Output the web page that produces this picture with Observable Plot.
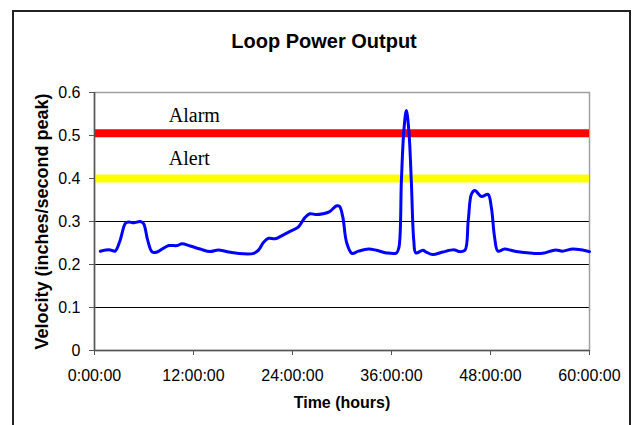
<!DOCTYPE html>
<html>
<head>
<meta charset="utf-8">
<script src="https://cdn.jsdelivr.net/npm/d3@7"></script>
<script src="https://cdn.jsdelivr.net/npm/@observablehq/plot@0.6"></script>
<style>
  html, body { margin: 0; padding: 0; background: #fff; overflow: hidden; }
  #wrap { position: relative; width: 636px; height: 425px; overflow: hidden; }
  #border { position: absolute; left: 12px; top: 10px; width: 619px; height: 480px; border: 2px solid #222; box-sizing: border-box; pointer-events: none; }
  #chart { position: absolute; left: 0; top: 0; }
</style>
</head>
<body>
<div id="wrap"><div id="chart"></div><div id="border"></div></div>
<script>
const title = "Loop Power Output";
const xLabel = "Time (hours)";
const yLabel = "Velocity (inches/second peak)";

const hours = [0.7, 1.9, 2.5, 3.1, 3.75, 4.15, 4.75, 5.55, 5.95, 6.45, 7.0, 7.6, 8.2, 9.0, 10.0, 10.6, 11.6, 12.8, 14.0, 15.0, 16.0, 17.3, 19.3, 19.9, 20.5, 21.1, 21.9, 22.9, 23.7, 24.7, 25.5, 26.1, 26.9, 27.7, 28.5, 29.3, 29.7, 30.1, 30.55, 31.2, 32.0, 33.2, 34.2, 35.4, 36.6, 36.9, 37.2, 37.5, 37.8, 38.1, 38.4, 38.7, 38.95, 39.8, 40.2, 41.0, 42.2, 43.65, 44.25, 44.9, 45.3, 45.7, 46.1, 46.9, 47.7, 48.1, 48.5, 48.9, 49.7, 51.1, 53.1, 54.3, 55.9, 56.7, 58.0, 59.8, 60.0];
const velocity = [0.231, 0.234, 0.231, 0.256, 0.296, 0.299, 0.297, 0.300, 0.295, 0.256, 0.229, 0.229, 0.236, 0.244, 0.244, 0.248, 0.243, 0.236, 0.230, 0.234, 0.230, 0.226, 0.226, 0.234, 0.252, 0.261, 0.260, 0.269, 0.277, 0.287, 0.309, 0.318, 0.316, 0.318, 0.323, 0.336, 0.335, 0.310, 0.252, 0.226, 0.231, 0.236, 0.233, 0.227, 0.227, 0.240, 0.395, 0.512, 0.558, 0.512, 0.395, 0.256, 0.227, 0.233, 0.229, 0.223, 0.229, 0.234, 0.230, 0.233, 0.302, 0.364, 0.372, 0.358, 0.363, 0.333, 0.263, 0.231, 0.236, 0.230, 0.226, 0.226, 0.234, 0.231, 0.236, 0.231, 0.230];

const xTicks = [0, 12, 24, 36, 48, 60];
const xTickLabels = ["0:00:00", "12:00:00", "24:00:00", "36:00:00", "48:00:00", "60:00:00"];
const yTicks = [0, 0.1, 0.2, 0.3, 0.4, 0.5, 0.6];
const yTickLabels = ["0", "0.1", "0.2", "0.3", "0.4", "0.5", "0.6"];

const thresholdNames = ["Alarm", "Alert"];
const thresholdLevels = [0.505, 0.4];
const thresholdColors = ["#ff0000", "#ffff00"];

const series = hours.map((h, i) => ({h, v: velocity[i]}));
const thresholds = thresholdNames.map((n, i) => ({name: n, level: thresholdLevels[i], color: thresholdColors[i]}));

const sans = "'Liberation Sans', Arial, sans-serif";

const chart = Plot.plot({
  width: 636,
  height: 425,
  marginLeft: 94,
  marginRight: 47,
  marginTop: 92,
  marginBottom: 75,
  style: {fontFamily: sans, fontSize: "16px", background: "transparent", color: "#000"},
  x: {domain: [0, 60]},
  y: {domain: [0, 0.6]},
  marks: [
    Plot.ruleY(yTicks.filter(d => d > 0 && d < 0.6), {stroke: "#000", strokeWidth: 1}),
    Plot.frame({stroke: "#a0a0a0", strokeWidth: 1.5}),
    Plot.ruleY(thresholds, {y: "level", stroke: "color", strokeWidth: 8}),
    Plot.text(thresholds.slice(0, 1), {x: 9, y: "level", text: "name", textAnchor: "start", lineAnchor: "bottom", dy: -11, fontFamily: "'Liberation Serif', 'Times New Roman', serif", fontSize: 20}),
    Plot.text(thresholds.slice(1, 2), {x: 9, y: "level", text: "name", textAnchor: "start", lineAnchor: "bottom", dy: -14, fontFamily: "'Liberation Serif', 'Times New Roman', serif", fontSize: 20}),
    Plot.line(series, {x: "h", y: "v", stroke: "#0000ff", strokeWidth: 3, curve: "catmull-rom"}),
    Plot.ruleX([0], {stroke: "#555", strokeWidth: 1.5}),
    Plot.ruleY([0], {stroke: "#555", strokeWidth: 1.5}),
    Plot.axisX({ticks: xTicks, tickFormat: d => xTickLabels[xTicks.indexOf(d)], tickSize: 5, tickPadding: 14, label: null, stroke: "#555"}),
    Plot.axisY({ticks: yTicks, tickFormat: d => yTickLabels[yTicks.indexOf(d)], tickSize: 5, tickPadding: 9, label: null, stroke: "#555"}),
    Plot.text([title], {frameAnchor: "top", dx: -18, dy: -45, lineAnchor: "bottom", fontWeight: "bold", fontSize: 20}),
    Plot.text([xLabel], {frameAnchor: "bottom", dy: 52, lineAnchor: "middle", fontWeight: "bold", fontSize: 16}),
    Plot.text([yLabel], {frameAnchor: "left", dx: -52, rotate: -90, lineAnchor: "middle", textAnchor: "middle", fontWeight: "bold", fontSize: 18})
  ]
});
document.getElementById("chart").appendChild(chart);
</script>
</body>
</html>
